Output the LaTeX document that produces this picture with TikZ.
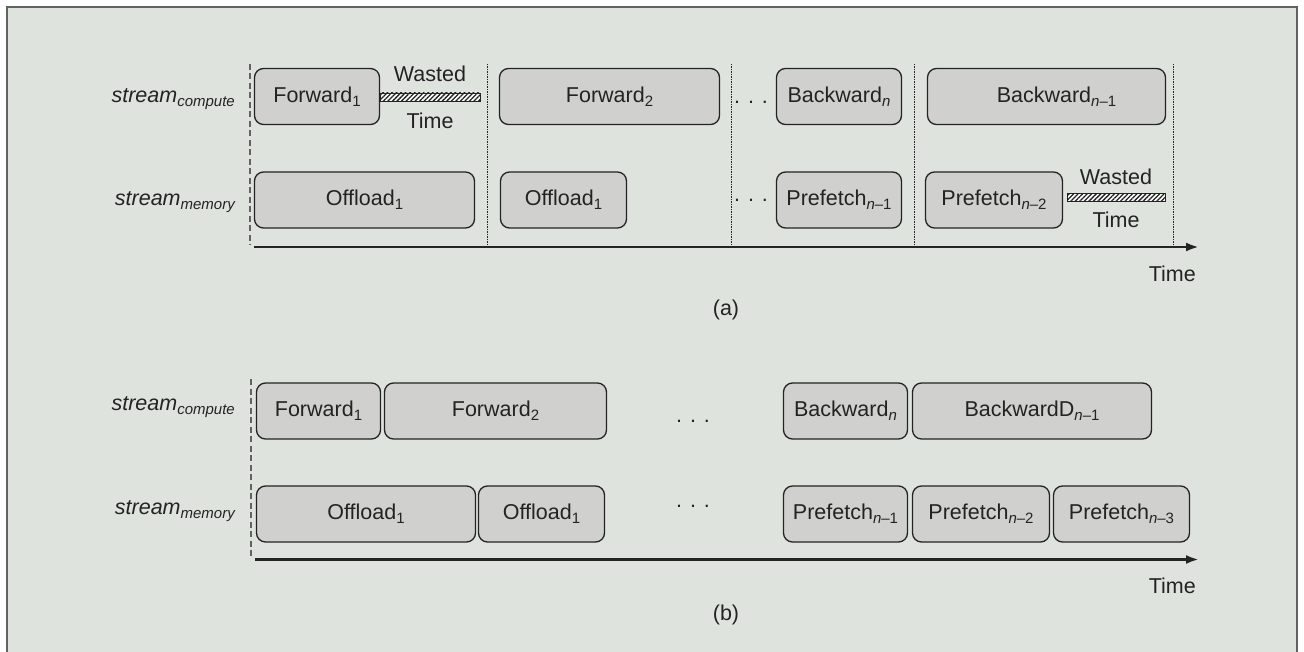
\documentclass[tikz,border=0pt]{standalone}
\usepackage{fontspec}
\setmainfont{Liberation Sans}
\usetikzlibrary{patterns.meta,arrows.meta}

\definecolor{panelbg}{HTML}{DFE3DD}
\definecolor{boxfill}{HTML}{D0D0CE}
\definecolor{ink}{HTML}{232323}
\definecolor{framegrey}{HTML}{626262}

% lowered, smaller index text
\newcommand\subs[1]{\raisebox{-4pt}{\fontsize{15}{17}\selectfont #1}}

\tikzset{
  txt/.style={text=ink, font=\fontsize{21.5}{25}\selectfont, inner sep=0},
  task/.style={txt, draw=ink, fill=boxfill, line width=1.3, rounded corners=9},
  waste/.style={draw=ink, line width=0.9, fill=white,
    postaction={pattern={Lines[angle=45, distance=3.2pt, line width=1.3pt]}, pattern color=ink},
    inner sep=0, minimum height=8},
  streamlbl/.style={txt, anchor=base east},
  axis/.style={draw=ink, line width=2.6, -{Latex[length=13,width=9]}},
  startline/.style={draw=framegrey, line width=1.4, dash pattern=on 6pt off 3.5pt},
  sepline/.style={draw=ink, line width=0.9, dash pattern=on 1.2pt off 1.3pt},
}

\begin{document}
\begin{tikzpicture}[x=1pt, y=-1pt]
\useasboundingbox (0,0) rectangle (1304,652);
\fill[white] (0,0) rectangle (1304,652);
\fill[panelbg] (7,7) rectangle (1297,652);
\draw[framegrey, line width=1.5] (7,652) -- (7,7) -- (1297,7) -- (1297,652);

% ---------------- (a) sequential streams ----------------
\node[streamlbl] (sca) at (235,103) {\itshape stream\subs{compute}};
\node[streamlbl] (sma) at (235,206) {\itshape stream\subs{memory}};

\draw[startline] (250,64) -- (250,245);
\foreach \x in {487,731,914,1173}
  \draw[sepline] (\x,64) -- (\x,245);

\node[task, minimum width=125, minimum height=56] (fa1) at (317,96.5) {Forward\subs{1}};
\node[waste, minimum width=100] (wa) at (430,97) {};
\node[txt, anchor=base] (wat) at ([yshift=15]wa.center) {Wasted};
\node[txt, anchor=base] (wab) at ([yshift=-32]wa.center) {Time};
\node[task, minimum width=220, minimum height=56] (fa2) at (609.5,96.5) {Forward\subs{2}};
\node[txt, anchor=base] (dca) at (751,103.5) {. . .};
\node[task, minimum width=125, minimum height=56] (bna) at (839,96.5) {Backward\subs{\textit{n}}};
\node[task, minimum width=238, minimum height=56] (bma) at (1046.5,96.5) {\hspace{20pt}Backward\subs{\textit{n}–1}};

\node[task, minimum width=220, minimum height=56] (oa1) at (364.5,200) {Offload\subs{1}};
\node[task, minimum width=126, minimum height=56] (oa2) at (563.5,200) {Offload\subs{1}};
\node[txt, anchor=base] (dma) at (751,202) {. . .};
\node[task, minimum width=125, minimum height=56] (pa1) at (839,200) {Prefetch\subs{\textit{n}–1}};
\node[task, minimum width=137, minimum height=56] (pa2) at (994,200) {Prefetch\subs{\textit{n}–2}};
\node[waste, minimum width=98] (wb) at (1116,197.5) {};
\node[txt, anchor=base] (wbt) at ([yshift=13]wb.center) {Wasted};
\node[txt, anchor=base] (wbb) at ([yshift=-30]wb.center) {Time};

\coordinate (a0) at (254,247);
\coordinate (a1) at (1199,247);
\draw[axis] (a0) -- (a1);
\node[txt, anchor=base east] (ta) at (1196,282) {Time};
\node[txt] (capa) at (726,310) {(a)};

% ---------------- (b) overlapped streams ----------------
\node[streamlbl] (scb) at (235,410) {\itshape stream\subs{compute}};
\node[streamlbl] (smb) at (235,514) {\itshape stream\subs{memory}};

\draw[startline] (251,379) -- (251,558);

\node[task, minimum width=124, minimum height=56] (fb1) at (318.5,411) {Forward\subs{1}};
\node[task, minimum width=222, minimum height=56] (fb2) at (495.5,411) {Forward\subs{2}};
\node[txt, anchor=base] (dcb) at (693,422) {. . .};
\node[task, minimum width=124, minimum height=56] (bnb) at (845.5,411) {Backward\subs{\textit{n}}};
\node[task, minimum width=239, minimum height=56] (bmb) at (1032,411) {BackwardD\subs{\textit{n}–1}};

\node[task, minimum width=219, minimum height=56] (ob1) at (366,514) {Offload\subs{1}};
\node[task, minimum width=126, minimum height=56] (ob2) at (541.5,514) {\raisebox{3pt}{Offload\subs{1}}};
\node[txt, anchor=base] (dmb) at (693,507) {. . .};
\node[task, minimum width=124, minimum height=56] (pb1) at (845.5,514) {Prefetch\subs{\textit{n}–1}};
\node[task, minimum width=137, minimum height=56] (pb2) at (981,514) {Prefetch\subs{\textit{n}–2}};
\node[task, minimum width=136, minimum height=56] (pb3) at (1121.5,514) {Prefetch\subs{\textit{n}–3}};

\coordinate (b0) at (255,559.5);
\coordinate (b1) at (1199,559.5);
\draw[axis] (b0) -- (b1);
\node[txt, anchor=base east] (tb) at (1196,593) {Time};
\node[txt] (capb) at (726,615) {(b)};
\end{tikzpicture}
\end{document}
